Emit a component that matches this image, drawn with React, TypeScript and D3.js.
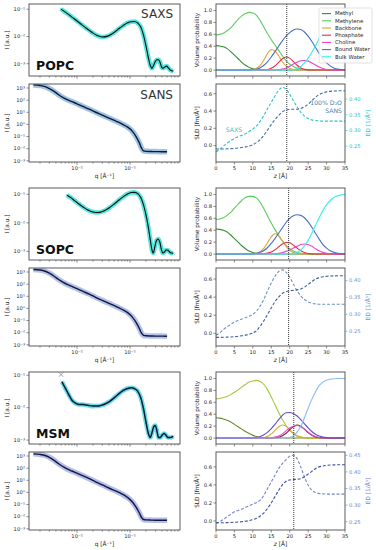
import * as d3 from "d3";
import React, { useEffect, useRef } from "react";

const W = 376;
const H = 550;
const FONT = "'DejaVu Sans', sans-serif";

// panel layout
const LX0 = 29, LX1 = 180;
const RX0 = 216, RX1 = 345;
const groupTops = [4, 188, 372];

// ---------------- shared axes values
const qDomain = [0.00124, 0.877];
const sansDomain = [10 ** -3.1, 10 ** 3.33];
const volDomain = [-0.1, 1.11];
const volTicks = [0, 0.2, 0.4, 0.6, 0.8, 1.0];
const sldTicks = [0, 0.2, 0.4, 0.6];
const zTicks = [0, 5, 10, 15, 20, 25, 30, 35];
const componentNames = ["Methyl", "Methylene", "Backbone", "Phosphate", "Choline", "Bound Water", "Bulk Water"];

const zPos = [0, 1, 2, 3, 4, 5, 6, 7, 8, 9, 10, 11, 12, 13, 14, 15, 16, 17, 18, 19, 20, 21, 22, 23, 24, 25, 26, 27, 28, 29, 30, 31, 32, 33, 34, 35];
const sansQ = [0.0015, 0.002, 0.0025, 0.003, 0.0037, 0.0045, 0.0055, 0.0065, 0.008, 0.01, 0.013, 0.017, 0.022, 0.03, 0.04, 0.055, 0.07, 0.09, 0.11, 0.13, 0.15, 0.165, 0.18, 0.2, 0.25, 0.3, 0.4, 0.5];

// ---------------- POPC
const popcSaxsQ = [0.005, 0.006, 0.0075, 0.0095, 0.012, 0.015, 0.019, 0.024, 0.03, 0.038, 0.048, 0.06, 0.075, 0.09, 0.105, 0.12, 0.14, 0.16, 0.18, 0.2, 0.22, 0.24, 0.26, 0.28, 0.3, 0.32, 0.345, 0.37, 0.395, 0.42, 0.45, 0.49, 0.53, 0.58, 0.65];
const popcSaxsI = [0.1, 0.078, 0.057, 0.04, 0.028, 0.02, 0.0142, 0.0108, 0.0096, 0.0103, 0.0132, 0.0185, 0.0255, 0.0315, 0.0348, 0.0352, 0.031, 0.022, 0.011, 0.0045, 0.0018, 0.0009, 0.00068, 0.0009, 0.0012, 0.0014, 0.0014, 0.0011, 0.00075, 0.00068, 0.00075, 0.00082, 0.0007, 0.00058, 0.00054];
const popcSansI = [1800, 1600, 1300, 900, 520, 280, 160, 110, 75, 50, 30, 18, 10.5, 5.8, 3.3, 1.8, 1.1, 0.6, 0.28, 0.1, 0.03, 0.011, 0.0065, 0.006, 0.0058, 0.0057, 0.0056, 0.0055];
const popcMethyl = [0.41, 0.405, 0.39, 0.36, 0.31, 0.25, 0.19, 0.13, 0.08, 0.045, 0.02, 0.008, 0.003, 0.001, 0, 0, 0, 0, 0, 0, 0, 0, 0, 0, 0, 0, 0, 0, 0, 0, 0, 0, 0, 0, 0, 0];
const popcMethylene = [0.59, 0.6, 0.62, 0.66, 0.71, 0.78, 0.85, 0.91, 0.95, 0.97, 0.96, 0.92, 0.83, 0.72, 0.61, 0.51, 0.42, 0.33, 0.24, 0.16, 0.1, 0.06, 0.035, 0.018, 0.008, 0.003, 0, 0, 0, 0, 0, 0, 0, 0, 0, 0];
const popcBackbone = [0, 0, 0, 0, 0, 0, 0, 0, 0, 0.003, 0.01, 0.03, 0.08, 0.17, 0.28, 0.345, 0.32, 0.24, 0.14, 0.07, 0.03, 0.01, 0.003, 0, 0, 0, 0, 0, 0, 0, 0, 0, 0, 0, 0, 0];
const popcPhosphate = [0, 0, 0, 0, 0, 0, 0, 0, 0, 0, 0, 0, 0, 0.003, 0.01, 0.03, 0.07, 0.13, 0.19, 0.22, 0.2, 0.14, 0.08, 0.035, 0.012, 0.003, 0, 0, 0, 0, 0, 0, 0, 0, 0, 0];
const popcCholine = [0, 0, 0, 0, 0, 0, 0, 0, 0, 0, 0, 0, 0, 0, 0, 0, 0, 0.005, 0.015, 0.035, 0.065, 0.1, 0.13, 0.155, 0.16, 0.15, 0.12, 0.085, 0.05, 0.025, 0.01, 0.004, 0, 0, 0, 0];
const popcBoundWater = [0, 0, 0, 0, 0, 0, 0, 0, 0, 0, 0.005, 0.015, 0.04, 0.08, 0.14, 0.22, 0.31, 0.4, 0.49, 0.57, 0.63, 0.675, 0.69, 0.68, 0.64, 0.57, 0.48, 0.38, 0.28, 0.19, 0.12, 0.07, 0.035, 0.015, 0.006, 0.002];
const popcBulkWater = [0, 0, 0, 0, 0, 0, 0, 0, 0, 0, 0, 0, 0, 0, 0, 0, 0, 0, 0, 0, 0.002, 0.008, 0.025, 0.06, 0.12, 0.2, 0.3, 0.41, 0.53, 0.65, 0.76, 0.85, 0.92, 0.96, 0.985, 0.995];
const popcSld = [-0.04, -0.04, -0.039, -0.037, -0.035, -0.032, -0.028, -0.022, -0.015, -0.005, 0.01, 0.035, 0.07, 0.12, 0.18, 0.245, 0.3, 0.35, 0.39, 0.41, 0.42, 0.42, 0.42, 0.43, 0.45, 0.48, 0.52, 0.56, 0.59, 0.61, 0.622, 0.628, 0.632, 0.634, 0.635, 0.635];
const popcEd = [0.232, 0.24, 0.25, 0.26, 0.268, 0.275, 0.28, 0.285, 0.29, 0.297, 0.305, 0.315, 0.33, 0.348, 0.37, 0.39, 0.41, 0.428, 0.437, 0.432, 0.415, 0.395, 0.375, 0.358, 0.346, 0.338, 0.334, 0.332, 0.331, 0.33, 0.33, 0.33, 0.33, 0.33, 0.33, 0.33];

// ---------------- SOPC
const sopcSaxsQ = [0.0065, 0.0075, 0.009, 0.011, 0.013, 0.016, 0.02, 0.025, 0.032, 0.04, 0.05, 0.062, 0.075, 0.09, 0.105, 0.12, 0.14, 0.16, 0.18, 0.2, 0.22, 0.24, 0.26, 0.275, 0.295, 0.315, 0.34, 0.365, 0.39, 0.415, 0.445, 0.48, 0.52, 0.57, 0.65];
const sopcSaxsI = [0.093, 0.078, 0.06, 0.045, 0.036, 0.028, 0.024, 0.023, 0.026, 0.033, 0.045, 0.063, 0.083, 0.103, 0.115, 0.117, 0.105, 0.075, 0.042, 0.019, 0.0075, 0.0027, 0.0011, 0.00088, 0.0015, 0.0024, 0.0027, 0.0021, 0.0012, 0.00088, 0.00095, 0.00112, 0.0011, 0.00092, 0.00086];
const sopcSansI = [1600, 1450, 1150, 800, 450, 240, 140, 95, 65, 42, 25, 15, 8.5, 4.6, 2.6, 1.4, 0.85, 0.45, 0.2, 0.07, 0.022, 0.009, 0.006, 0.0055, 0.0053, 0.0052, 0.0052, 0.0051];
const sopcMethyl = [0.42, 0.415, 0.4, 0.37, 0.32, 0.26, 0.2, 0.14, 0.09, 0.05, 0.025, 0.01, 0.004, 0.001, 0, 0, 0, 0, 0, 0, 0, 0, 0, 0, 0, 0, 0, 0, 0, 0, 0, 0, 0, 0, 0, 0];
const sopcMethylene = [0.58, 0.59, 0.61, 0.65, 0.7, 0.77, 0.84, 0.9, 0.95, 0.97, 0.97, 0.94, 0.87, 0.76, 0.64, 0.52, 0.41, 0.31, 0.22, 0.15, 0.09, 0.05, 0.025, 0.012, 0.005, 0.002, 0, 0, 0, 0, 0, 0, 0, 0, 0, 0];
const sopcBackbone = [0, 0, 0, 0, 0, 0, 0, 0, 0, 0, 0.005, 0.015, 0.04, 0.1, 0.19, 0.29, 0.34, 0.31, 0.22, 0.13, 0.06, 0.025, 0.008, 0.002, 0, 0, 0, 0, 0, 0, 0, 0, 0, 0, 0, 0];
const sopcPhosphate = [0, 0, 0, 0, 0, 0, 0, 0, 0, 0, 0, 0, 0, 0.005, 0.015, 0.035, 0.07, 0.12, 0.17, 0.195, 0.19, 0.15, 0.1, 0.055, 0.025, 0.01, 0.003, 0, 0, 0, 0, 0, 0, 0, 0, 0];
const sopcCholine = [0, 0, 0, 0, 0, 0, 0, 0, 0, 0, 0, 0, 0, 0, 0, 0, 0.005, 0.012, 0.025, 0.045, 0.07, 0.1, 0.13, 0.16, 0.17, 0.16, 0.13, 0.09, 0.055, 0.028, 0.012, 0.005, 0.002, 0, 0, 0];
const sopcBoundWater = [0, 0, 0, 0, 0, 0, 0, 0, 0, 0, 0.005, 0.012, 0.03, 0.06, 0.11, 0.18, 0.26, 0.35, 0.44, 0.53, 0.6, 0.645, 0.66, 0.65, 0.61, 0.54, 0.45, 0.35, 0.25, 0.16, 0.1, 0.055, 0.028, 0.012, 0.005, 0.002];
const sopcBulkWater = [0, 0, 0, 0, 0, 0, 0, 0, 0, 0, 0, 0, 0, 0, 0, 0, 0, 0, 0, 0, 0.002, 0.01, 0.03, 0.07, 0.14, 0.23, 0.35, 0.48, 0.61, 0.73, 0.83, 0.9, 0.95, 0.98, 0.995, 1.0];
const sopcSld = [-0.045, -0.045, -0.044, -0.042, -0.04, -0.037, -0.033, -0.027, -0.02, -0.01, 0.003, 0.03, 0.08, 0.14, 0.21, 0.28, 0.35, 0.4, 0.44, 0.46, 0.47, 0.475, 0.48, 0.49, 0.51, 0.54, 0.57, 0.6, 0.615, 0.625, 0.63, 0.633, 0.635, 0.636, 0.636, 0.636];
const sopcEd = [0.238, 0.245, 0.255, 0.263, 0.27, 0.277, 0.282, 0.286, 0.29, 0.294, 0.3, 0.31, 0.325, 0.345, 0.37, 0.393, 0.413, 0.427, 0.432, 0.425, 0.41, 0.39, 0.37, 0.355, 0.344, 0.337, 0.333, 0.331, 0.33, 0.33, 0.33, 0.33, 0.33, 0.33, 0.33, 0.33];

// ---------------- MSM
const msmSaxsQ = [0.0052, 0.006, 0.007, 0.008, 0.0095, 0.011, 0.013, 0.016, 0.02, 0.025, 0.032, 0.04, 0.05, 0.062, 0.075, 0.09, 0.105, 0.12, 0.14, 0.16, 0.18, 0.2, 0.22, 0.24, 0.26, 0.28, 0.3, 0.32, 0.345, 0.37, 0.4, 0.44, 0.48, 0.52, 0.58, 0.65];
const msmSaxsI = [0.062, 0.04, 0.025, 0.017, 0.0135, 0.0125, 0.0125, 0.0118, 0.0112, 0.0113, 0.0125, 0.015, 0.02, 0.027, 0.034, 0.039, 0.041, 0.039, 0.032, 0.02, 0.009, 0.0036, 0.0017, 0.0012, 0.0017, 0.0026, 0.0028, 0.002, 0.0012, 0.0012, 0.0014, 0.0016, 0.0014, 0.0012, 0.0012, 0.0013];
const msmOutlierQ = [0.005];
const msmOutlierI = [0.105];
const msmSansI = [1500, 1350, 1100, 780, 440, 230, 130, 85, 58, 38, 23, 13.5, 7.8, 4.2, 2.3, 1.25, 0.75, 0.38, 0.17, 0.06, 0.02, 0.0085, 0.0058, 0.0054, 0.0052, 0.0051, 0.0051, 0.005];
const msmMethyl = [0.34, 0.335, 0.32, 0.3, 0.27, 0.23, 0.19, 0.15, 0.11, 0.075, 0.045, 0.025, 0.012, 0.005, 0.002, 0, 0, 0, 0, 0, 0, 0, 0, 0, 0, 0, 0, 0, 0, 0, 0, 0, 0, 0, 0, 0];
const msmMethylene = [0.66, 0.665, 0.68, 0.7, 0.73, 0.77, 0.81, 0.86, 0.9, 0.94, 0.96, 0.97, 0.95, 0.9, 0.81, 0.69, 0.56, 0.43, 0.31, 0.21, 0.13, 0.075, 0.04, 0.02, 0.008, 0.003, 0, 0, 0, 0, 0, 0, 0, 0, 0, 0];
const msmBackbone = [0, 0, 0, 0, 0, 0, 0, 0, 0, 0, 0, 0, 0.003, 0.01, 0.03, 0.07, 0.13, 0.19, 0.22, 0.2, 0.14, 0.08, 0.035, 0.012, 0.004, 0, 0, 0, 0, 0, 0, 0, 0, 0, 0, 0];
const msmPhosphate = [0, 0, 0, 0, 0, 0, 0, 0, 0, 0, 0, 0, 0, 0, 0, 0, 0.005, 0.015, 0.04, 0.08, 0.14, 0.19, 0.22, 0.2, 0.15, 0.09, 0.045, 0.018, 0.006, 0.002, 0, 0, 0, 0, 0, 0];
const msmCholine = [0, 0, 0, 0, 0, 0, 0, 0, 0, 0, 0, 0, 0, 0, 0, 0.005, 0.015, 0.035, 0.07, 0.12, 0.17, 0.2, 0.21, 0.19, 0.15, 0.1, 0.055, 0.025, 0.01, 0.003, 0, 0, 0, 0, 0, 0];
const msmBoundWater = [0, 0, 0, 0, 0, 0, 0, 0, 0, 0, 0.003, 0.01, 0.025, 0.055, 0.1, 0.16, 0.23, 0.31, 0.38, 0.425, 0.43, 0.41, 0.37, 0.31, 0.24, 0.17, 0.11, 0.065, 0.035, 0.016, 0.007, 0.003, 0, 0, 0, 0];
const msmBulkWater = [0, 0, 0, 0, 0, 0, 0, 0, 0, 0, 0, 0, 0, 0, 0, 0, 0, 0, 0, 0.002, 0.01, 0.04, 0.1, 0.2, 0.34, 0.5, 0.65, 0.78, 0.88, 0.94, 0.975, 0.99, 0.997, 1, 1, 1];
const msmSld = [-0.02, -0.02, -0.019, -0.018, -0.016, -0.014, -0.012, -0.008, -0.003, 0.005, 0.015, 0.03, 0.055, 0.09, 0.14, 0.2, 0.27, 0.34, 0.4, 0.44, 0.455, 0.46, 0.462, 0.47, 0.49, 0.52, 0.55, 0.58, 0.6, 0.61, 0.616, 0.62, 0.622, 0.623, 0.624, 0.624];
const msmEd = [0.245, 0.25, 0.257, 0.265, 0.272, 0.28, 0.284, 0.288, 0.293, 0.298, 0.303, 0.308, 0.315, 0.33, 0.35, 0.37, 0.39, 0.41, 0.425, 0.437, 0.447, 0.45, 0.44, 0.415, 0.385, 0.36, 0.345, 0.338, 0.335, 0.334, 0.333, 0.333, 0.333, 0.333, 0.333, 0.333];

const popcColors = ["#2f8f2f", "#5ccc5c", "#e3a03a", "#e8284a", "#f23fd2", "#4a6fc0", "#34ecec"];
const sopcColors = ["#338f33", "#5ccc5c", "#e3a03a", "#e42a4c", "#f040d0", "#4a6fc4", "#36ecec"];
const msmColors = ["#6a8a2a", "#a2c83c", "#d4ac30", "#8a1a50", "#e04cc8", "#5a50d0", "#8cbcf4"];

const groups = [
  {
    name: "POPC", saxsQ: popcSaxsQ, saxsI: popcSaxsI, sansI: popcSansI,
    vol: [popcMethyl, popcMethylene, popcBackbone, popcPhosphate, popcCholine, popcBoundWater, popcBulkWater],
    sld: popcSld, ed: popcEd, cut: 19.2,
    saxsDom: [10 ** -3.45, 10 ** -0.81], sldDom: [-0.19, 0.713], edDom: [0.2, 0.448], edTicks: [0.25, 0.3, 0.35, 0.4],
    colors: popcColors, sldColor: "#3d6fa6", edColor: "#2cc3c3", saxsBand: "#3fe3d8", sansBand: "#8fb8dc", fitColor: "#111",
  },
  {
    name: "SOPC", saxsQ: sopcSaxsQ, saxsI: sopcSaxsI, sansI: sopcSansI,
    vol: [sopcMethyl, sopcMethylene, sopcBackbone, sopcPhosphate, sopcCholine, sopcBoundWater, sopcBulkWater],
    sld: sopcSld, ed: sopcEd, cut: 19.7,
    saxsDom: [10 ** -3.3, 10 ** -0.78], sldDom: [-0.14, 0.722], edDom: [0.206, 0.4375], edTicks: [0.25, 0.3, 0.35, 0.4],
    colors: sopcColors, sldColor: "#3e5f9c", edColor: "#6f92c4", saxsBand: "#3fe3d8", sansBand: "#a9b6e6", fitColor: "#111",
  },
  {
    name: "MSM", saxsQ: msmSaxsQ, saxsI: msmSaxsI, sansI: msmSansI,
    vol: [msmMethyl, msmMethylene, msmBackbone, msmPhosphate, msmCholine, msmBoundWater, msmBulkWater],
    sld: msmSld, ed: msmEd, cut: 21.1,
    saxsDom: [10 ** -3.12, 10 ** -0.9], sldDom: [-0.1, 0.765], edDom: [0.225, 0.46], edTicks: [0.25, 0.3, 0.35, 0.4, 0.45],
    colors: msmColors, sldColor: "#3e4f9c", edColor: "#7484c6", saxsBand: "#5ad8e0", sansBand: "#aab0e6", fitColor: "#0c1a40",
  },
];

const TICK_FS = 5.2;
const LABEL_FS = 5.8;
const TEXT = "#262626";
const SPINE = "#4a4a4a";

const supMap: Record<string, string> = { "-": "⁻", "0": "⁰", "1": "¹", "2": "²", "3": "³", "4": "⁴" };
const pow10 = (v: number) => "10" + String(Math.round(Math.log10(v))).split("").map((c) => supMap[c]).join("");

function frame(g: any, x0: number, y0: number, x1: number, y1: number) {
  g.append("rect")
    .attr("x", x0).attr("y", y0)
    .attr("width", x1 - x0).attr("height", y1 - y0)
    .attr("fill", "none").attr("stroke", SPINE).attr("stroke-width", 0.9);
}

function clip(svg: any, id: string, x0: number, y0: number, x1: number, y1: number) {
  svg.append("clipPath").attr("id", id).append("rect")
    .attr("x", x0).attr("y", y0).attr("width", x1 - x0).attr("height", y1 - y0);
}

function bottomTicks(g: any, scale: any, vals: number[], y: number, len: number, fmt?: (v: number) => string) {
  vals.forEach((v) => {
    g.append("line").attr("x1", scale(v)).attr("x2", scale(v)).attr("y1", y).attr("y2", y + len)
      .attr("stroke", SPINE).attr("stroke-width", 0.6);
    if (fmt) {
      g.append("text").attr("x", scale(v)).attr("y", y + len + 5.2)
        .attr("text-anchor", "middle").attr("font-size", TICK_FS).attr("fill", TEXT).text(fmt(v));
    }
  });
}

function sideTicks(g: any, scale: any, vals: number[], x: number, dir: number, fmt: (v: number) => string, color: string) {
  vals.forEach((v) => {
    g.append("line").attr("x1", x).attr("x2", x + dir * 2.6).attr("y1", scale(v)).attr("y2", scale(v))
      .attr("stroke", dir < 0 ? SPINE : color).attr("stroke-width", 0.6);
    g.append("text").attr("x", x + dir * 4).attr("y", scale(v)).attr("dy", "0.35em")
      .attr("text-anchor", dir < 0 ? "end" : "start")
      .attr("font-size", TICK_FS).attr("fill", color).text(fmt(v));
  });
}

function logXTicks(g: any, x: any, y: number, labels: boolean) {
  const all = x.ticks();
  const majors = all.filter((v: number) => Math.abs(Math.log10(v) - Math.round(Math.log10(v))) < 1e-6);
  const minors = all.filter((v: number) => !majors.includes(v));
  bottomTicks(g, x, minors, y, 1.6);
  bottomTicks(g, x, majors, y, 2.8, labels ? pow10 : undefined);
}

function yLabel(g: any, text: string, x: number, cy: number, color = TEXT) {
  g.append("text").attr("transform", `translate(${x},${cy}) rotate(-90)`)
    .attr("text-anchor", "middle").attr("font-size", LABEL_FS).attr("fill", color).text(text);
}

function drawGroup(svg: any, s: any, gi: number) {
  const T = groupTops[gi];
  const sa = [T, T + 72];
  const sn = [T + 80, T + 158];
  const g = svg.append("g");

  ["a", "b", "c", "d"].forEach((k, i) => {
    const xr = i < 2 ? [LX0, LX1] : [RX0, RX1];
    const yr = i % 2 === 0 ? sa : sn;
    clip(svg, `clip${gi}${k}`, xr[0], yr[0], xr[1], yr[1]);
  });

  // ---------- scattering (left column)
  const x = d3.scaleLog().domain(qDomain).range([LX0, LX1]);
  const ySaxs = d3.scaleLog().domain(s.saxsDom).range([sa[1], sa[0]]);
  const ySans = d3.scaleLog().domain(sansDomain).range([sn[1], sn[0]]);

  const saxsLine = d3.line<[number, number]>().x((d) => x(d[0])).y((d) => ySaxs(d[1])).curve(d3.curveMonotoneX);
  const sansLine = d3.line<[number, number]>().x((d) => x(d[0])).y((d) => ySans(d[1])).curve(d3.curveMonotoneX);
  const saxsPts = d3.zip(s.saxsQ, s.saxsI);
  const sansPts = d3.zip(sansQ, s.sansI);

  const pa = g.append("g").attr("clip-path", `url(#clip${gi}a)`);
  pa.append("path").datum(saxsPts).attr("d", saxsLine).attr("fill", "none")
    .attr("stroke", s.saxsBand).attr("stroke-width", 4.6).attr("stroke-linejoin", "round").attr("opacity", 0.85);
  pa.selectAll(".mk").data(saxsPts).join("path")
    .attr("transform", (d: any) => `translate(${x(d[0])},${ySaxs(d[1])})`)
    .attr("d", d3.symbol(d3.symbolX, 6)).attr("stroke", "#21c9c0").attr("stroke-width", 0.6).attr("fill", "none");
  pa.append("path").datum(saxsPts).attr("d", saxsLine).attr("fill", "none")
    .attr("stroke", s.fitColor).attr("stroke-width", gi === 2 ? 1.5 : 1.1);
  if (s.name === "MSM") {
    pa.selectAll(".out").data(d3.zip(msmOutlierQ, msmOutlierI)).join("path")
      .attr("transform", (d: any) => `translate(${x(d[0])},${ySaxs(d[1])})`)
      .attr("d", d3.symbol(d3.symbolX, 14)).attr("stroke", "#7c8aa6").attr("stroke-width", 0.8).attr("fill", "none");
  }

  const pb = g.append("g").attr("clip-path", `url(#clip${gi}b)`);
  pb.append("path").datum(sansPts).attr("d", sansLine).attr("fill", "none")
    .attr("stroke", s.sansBand).attr("stroke-width", 5.5).attr("stroke-linejoin", "round").attr("opacity", 0.85);
  pb.append("path").datum(sansPts).attr("d", sansLine).attr("fill", "none")
    .attr("stroke", "#0c1a3c").attr("stroke-width", 1.4);

  frame(g, LX0, sa[0], LX1, sa[1]);
  frame(g, LX0, sn[0], LX1, sn[1]);
  logXTicks(g, x, sa[1], false);
  logXTicks(g, x, sn[1], true);

  const saxsMaj = ySaxs.ticks().filter((v: number) => Math.abs(Math.log10(v) - Math.round(Math.log10(v))) < 1e-6);
  const sansMaj = ySans.ticks().filter((v: number) => Math.abs(Math.log10(v) - Math.round(Math.log10(v))) < 1e-6);
  sideTicks(g, ySaxs, saxsMaj, LX0, -1, pow10, TEXT);
  sideTicks(g, ySans, sansMaj, LX0, -1, pow10, TEXT);
  yLabel(g, "I [a.u.]", 9, (sa[0] + sa[1]) / 2);
  yLabel(g, "I [a.u.]", 9, (sn[0] + sn[1]) / 2);
  g.append("text").attr("x", (LX0 + LX1) / 2).attr("y", sn[1] + 15.5).attr("text-anchor", "middle")
    .attr("font-size", LABEL_FS).attr("fill", TEXT).text("q [Å⁻¹]");

  g.append("text").attr("x", 36).attr("y", sa[1] - 6).attr("font-size", 12.5)
    .attr("font-weight", "bold").attr("fill", "#111").text(s.name);
  if (gi === 0) {
    g.append("text").attr("x", 173).attr("y", sa[0] + 14).attr("text-anchor", "end")
      .attr("font-size", 12).attr("fill", "#333").text("SAXS");
    g.append("text").attr("x", 173).attr("y", sn[0] + 15).attr("text-anchor", "end")
      .attr("font-size", 12).attr("fill", "#333").text("SANS");
  }

  // ---------- profiles (right column)
  const z = d3.scaleLinear().domain([0, 35]).range([RX0, RX1]);
  const yVol = d3.scaleLinear().domain(volDomain).range([sa[1], sa[0]]);
  const ySld = d3.scaleLinear().domain(s.sldDom).range([sn[1], sn[0]]);
  const yEd = d3.scaleLinear().domain(s.edDom).range([sn[1], sn[0]]);

  const pc = g.append("g").attr("clip-path", `url(#clip${gi}c)`);
  s.vol.forEach((arr: number[], k: number) => {
    const line = d3.line<number>().x((_, i) => z(zPos[i])).y((d) => yVol(d)).curve(d3.curveMonotoneX);
    pc.append("path").datum(arr).attr("d", line).attr("fill", "none")
      .attr("stroke", s.colors[k]).attr("stroke-width", 1.1);
  });

  const pd = g.append("g").attr("clip-path", `url(#clip${gi}d)`);
  const sldLine = d3.line<number>().x((_, i) => z(zPos[i])).y((d) => ySld(d)).curve(d3.curveMonotoneX);
  const edLine = d3.line<number>().x((_, i) => z(zPos[i])).y((d) => yEd(d)).curve(d3.curveMonotoneX);
  pd.append("path").datum(s.ed).attr("d", edLine).attr("fill", "none")
    .attr("stroke", s.edColor).attr("stroke-width", 1.1).attr("stroke-dasharray", "3,1.8");
  pd.append("path").datum(s.sld).attr("d", sldLine).attr("fill", "none")
    .attr("stroke", s.sldColor).attr("stroke-width", 1.1).attr("stroke-dasharray", "3,1.8");

  [sa, sn].forEach((r) => {
    g.append("line").attr("x1", z(s.cut)).attr("x2", z(s.cut)).attr("y1", r[0]).attr("y2", r[1])
      .attr("stroke", "#222").attr("stroke-width", 0.9).attr("stroke-dasharray", "1,1");
  });

  frame(g, RX0, sa[0], RX1, sa[1]);
  frame(g, RX0, sn[0], RX1, sn[1]);
  bottomTicks(g, z, zTicks, sa[1], 2.6);
  bottomTicks(g, z, zTicks, sn[1], 2.6, (v) => String(v));
  sideTicks(g, yVol, volTicks, RX0, -1, d3.format(".1f"), TEXT);
  sideTicks(g, ySld, sldTicks, RX0, -1, d3.format(".1f"), TEXT);
  sideTicks(g, yEd, s.edTicks, RX1, 1, d3.format(".2f"), s.edColor);
  yLabel(g, "Volume probability", 199, (sa[0] + sa[1]) / 2);
  yLabel(g, "SLD [fm/Å³]", 199, (sn[0] + sn[1]) / 2);
  yLabel(g, "ED [1/Å³]", 370, (sn[0] + sn[1]) / 2, s.edColor);
  const zl = g.append("text").attr("x", (RX0 + RX1) / 2).attr("y", sn[1] + 15.5).attr("text-anchor", "middle")
    .attr("font-size", LABEL_FS).attr("fill", TEXT);
  zl.append("tspan").attr("font-style", "italic").text("z");
  zl.append("tspan").text(" [Å]");

  if (gi === 0) {
    // legend
    const lg = g.append("g");
    lg.append("rect").attr("x", 319).attr("y", 8).attr("width", 53).attr("height", 55).attr("rx", 1.5)
      .attr("fill", "#fff").attr("fill-opacity", 0.85).attr("stroke", "#cfcfcf").attr("stroke-width", 0.6);
    componentNames.forEach((nm, k) => {
      const yy = 13.6 + k * 7.2;
      lg.append("line").attr("x1", 322).attr("x2", 331).attr("y1", yy).attr("y2", yy)
        .attr("stroke", s.colors[k]).attr("stroke-width", 1.1);
      lg.append("text").attr("x", 335).attr("y", yy).attr("dy", "0.35em")
        .attr("font-size", 5.4).attr("fill", TEXT).text(nm);
    });
    g.append("text").attr("x", 342).attr("y", sn[0] + 21).attr("text-anchor", "end")
      .attr("font-size", 6.2).attr("fill", "#4f80b2").text("100% D₂O");
    g.append("text").attr("x", 342).attr("y", sn[0] + 28.5).attr("text-anchor", "end")
      .attr("font-size", 6.2).attr("fill", "#4f80b2").text("SANS");
    g.append("text").attr("x", 234).attr("y", sn[0] + 48).attr("text-anchor", "middle")
      .attr("font-size", 6.2).attr("fill", s.edColor).text("SAXS");
  }
}

export default function App() {
  const svgRef = useRef<SVGSVGElement>(null);

  useEffect(() => {
    const svg = d3.select(svgRef.current);
    svg.selectAll("*").remove();
    svg.append("rect").attr("width", W).attr("height", H).attr("fill", "#fff");
    groups.forEach((s, gi) => drawGroup(svg, s, gi));
  }, []);

  return (
    <svg
      ref={svgRef}
      width={W}
      height={H}
      style={{ position: "absolute", left: 0, top: 0, fontFamily: FONT }}
    ></svg>
  );
}
